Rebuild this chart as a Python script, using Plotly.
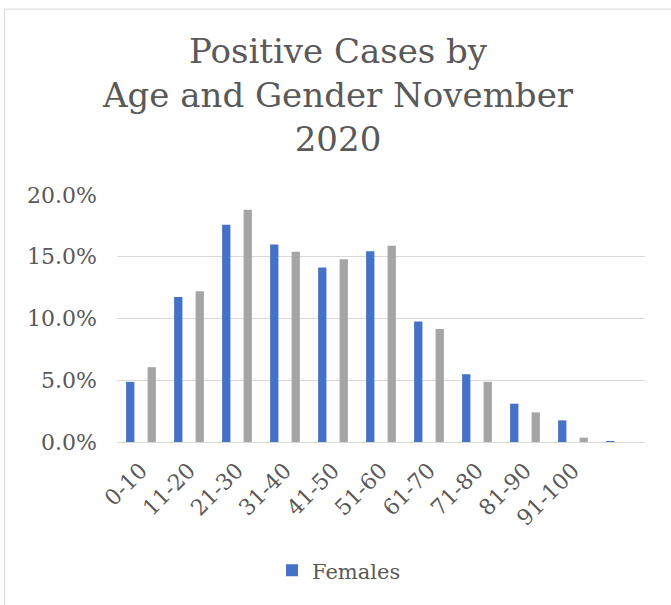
import plotly.graph_objects as go

categories = ["0-10", "11-20", "21-30", "31-40", "41-50", "51-60",
              "61-70", "71-80", "81-90", "91-100", " "]
females = [0.0487, 0.1174, 0.1760, 0.1600, 0.1413, 0.1545,
           0.0975, 0.0549, 0.0310, 0.0175, 0.0006]
males = [0.0606, 0.1220, 0.1880, 0.1540, 0.1480, 0.1590,
         0.0915, 0.0487, 0.0240, 0.0035, 0.0]

FONT = "DejaVu Serif"
TXT = "#595959"

fig = go.Figure()
fig.add_trace(go.Bar(x=categories, y=females, name="Females",
                     marker=dict(color="#4472C4", line=dict(width=0))))
fig.add_trace(go.Bar(x=categories, y=males, name="Males", showlegend=False,
                     marker=dict(color="#A5A5A5", line=dict(width=0))))

L, R, T, B = 117, 26, 195, 163
W, H = 671, 605
pw = W - L - R
ph = H - T - B

fig.update_layout(
    width=W, height=H,
    margin=dict(l=L, r=R, t=T, b=B, pad=0),
    paper_bgcolor="white", plot_bgcolor="white",
    barmode="group", bargap=0.104, bargroupgap=0.614,
    font=dict(family=FONT, color=TXT, size=22),
    title=dict(text="Positive Cases by<br>Age and Gender November<br>2020",
               font=dict(family=FONT, size=34, color=TXT),
               x=338 / W, xanchor="center", xref="container",
               y=1 - 63 / H, yanchor="middle", yref="container"),
    xaxis=dict(type="category", tickangle=-45, showgrid=False,
               showline=True, linecolor="#D9D9D9", linewidth=1,
               ticks="", ticklabelstandoff=6,
               tickfont=dict(family=FONT, size=22, color=TXT)),
    yaxis=dict(range=[0, 0.2], dtick=0.05, tickformat=".1%",
               showgrid=True, gridcolor="#D9D9D9", gridwidth=1,
               zeroline=False, showline=False, ticks="",
               ticklabelstandoff=19,
               tickfont=dict(family=FONT, size=22, color=TXT)),
    legend=dict(orientation="h", x=(272 - L) / pw, xanchor="left",
                y=(442.3 - 571) / ph, yanchor="middle",
                font=dict(family=FONT, size=21, color=TXT),
                itemwidth=30, bgcolor="rgba(0,0,0,0)"),
    shapes=[dict(type="rect", xref="paper", yref="paper",
                 x0=(4.5 - L) / pw, x1=1.3, y0=-1.0, y1=(442.3 - 9.5) / ph,
                 line=dict(color="#D9D9D9", width=1), layer="below")],
)

fig.write_html("out.html", config={"displayModeBar": False},
               post_script="document.body.style.margin='0px';")
